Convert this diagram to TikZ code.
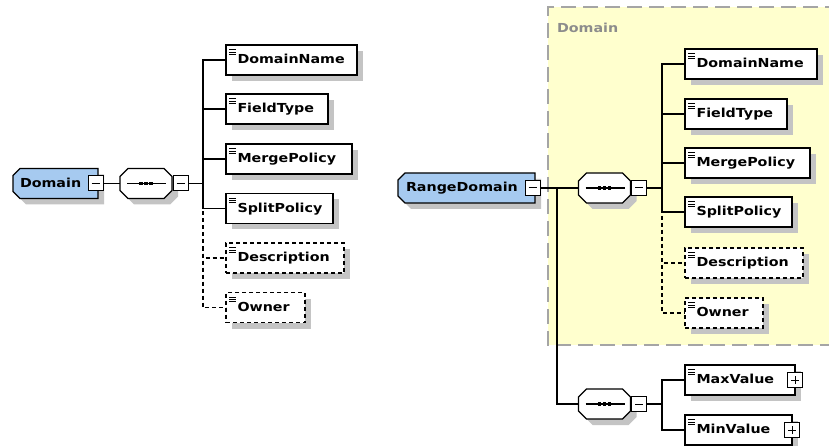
\documentclass[tikz,border=0pt]{standalone}
\usepackage{fontspec}
\newfontfamily\boxfont{DejaVu Sans}[BoldFont=DejaVu Sans Bold, FakeStretch=1.15, BoldFeatures={FakeStretch=1.15}]
\usetikzlibrary{shadows}
\definecolor{shgray}{RGB}{196,196,196}
\definecolor{elblue}{RGB}{166,202,240}
\definecolor{yel}{RGB}{255,255,206}
\definecolor{lblgray}{RGB}{140,140,140}
\definecolor{yborder}{RGB}{165,165,165}
\newcommand\elfont{\boxfont\bfseries\fontsize{12.4}{15}\selectfont}
\pgfdeclarelayer{back}
\pgfdeclarelayer{shapes}
\pgfsetlayers{back,shapes,main}
\tikzset{
  every node/.style={inner sep=0pt, outer sep=0pt},
  conn/.style={line width=1.1pt},
  optconn/.style={line width=1.1pt, dash pattern=on 4pt off 3pt},
  elem/.style={draw, line width=1.1pt, fill=white, minimum height=30pt, anchor=west,
    align=left, font=\elfont, text height=10pt, text depth=2.5pt,
    drop shadow={shadow xshift=6pt, shadow yshift=-6pt, fill=shgray, opacity=1}},
  optelem/.style={elem, dash pattern=on 4pt off 3pt},
  rootel/.style={minimum height=30pt, anchor=west, align=left, font=\elfont,
    text height=10pt, text depth=2.5pt},
  seqn/.style={minimum width=52pt, minimum height=30pt},
  pmbox/.style={draw, line width=1pt, fill=white, minimum size=15pt},
}
\newcommand\icon[1]{\foreach \k in {0,1,2}{\draw[line width=0.7pt] ([xshift=3pt,yshift={-4.5pt-2.4pt*\k}]#1.north west) -- ++(7,0);}}
\newcommand\minusmark[1]{\draw[line width=1pt] ([xshift=3.5pt]#1.west) -- ([xshift=-3.5pt]#1.east);}
\newcommand\plusmark[1]{\minusmark{#1}\draw[line width=1pt] ([yshift=3.5pt]#1.south) -- ([yshift=-3.5pt]#1.north);}
\newcommand\rootpath[1]{([yshift=-7pt]#1.north west) -- ([xshift=7pt]#1.north west) -- (#1.north east) -- (#1.south east) -- ([xshift=7pt]#1.south west) -- ([yshift=7pt]#1.south west) -- cycle}
\newcommand\octpath[1]{([xshift=8pt]#1.north west) -- ([xshift=-8pt]#1.north east) -- ([yshift=-8pt]#1.north east) -- ([yshift=8pt]#1.south east) -- ([xshift=-8pt]#1.south east) -- ([xshift=8pt]#1.south west) -- ([yshift=8pt]#1.south west) -- ([yshift=-8pt]#1.north west) -- cycle}
\newcommand\rootshape[1]{%
  \begin{scope}[transform canvas={shift={(6pt,-6pt)}}]\fill[shgray] \rootpath{#1};\end{scope}
  \filldraw[fill=elblue, line width=1.1pt] \rootpath{#1};}
\newcommand\seqshape[1]{%
  \begin{scope}[transform canvas={shift={(6pt,-6pt)}}]\fill[shgray] \octpath{#1};\end{scope}
  \filldraw[fill=white, line width=1.1pt] \octpath{#1};
  \draw[line width=1.2pt] ([xshift=7pt]#1.west) -- ([xshift=-6pt]#1.east);
  \foreach \d in {-5,0,5}{\fill ([xshift=\d pt-1.75pt, yshift=1.75pt]#1.center) rectangle ++(3.5,3.5);}}
\begin{document}
\begin{tikzpicture}[x=1pt,y=-1pt]
\useasboundingbox (0,0) rectangle (829,446);
\begin{pgfonlayer}{back}
  \fill[white] (0,0) rectangle (829,446);
  \node[fill=yel, minimum width=292pt, minimum height=338pt, anchor=north west] (ybox) at (548,7) {};
  \draw[yborder, line width=1.5pt, dash pattern=on 15pt off 7pt] (ybox.north east) -- (ybox.north west) -- (ybox.south west) -- (ybox.south east);
\end{pgfonlayer}
\node[anchor=west, font=\elfont, text=lblgray] (ylab) at (557,28) {Domain};

% ---------- left diagram ----------
\node[rootel, text width=85pt] (dom) at (13,183.5) {\hspace*{7pt}Domain};
\node[seqn] (seq1) at (146,183.5) {};
\node[pmbox] (dommin) at (95.5,183.5) {};
\node[pmbox] (seq1min) at (180.5,183.5) {};
\begin{pgfonlayer}{shapes}
  \rootshape{dom}
  \seqshape{seq1}
\end{pgfonlayer}
\minusmark{dommin}
\minusmark{seq1min}
\coordinate (b1) at (203,183.5);

\node[elem, text width=131pt] (ldn) at (226,60) {\hspace*{11.5pt}DomainName};
\node[elem, text width=102pt] (lft) at (226,109) {\hspace*{11.5pt}FieldType};
\node[elem, text width=126pt] (lmp) at (226,159) {\hspace*{11.5pt}MergePolicy};
\node[elem, text width=107pt] (lsp) at (226,208.5) {\hspace*{11.5pt}SplitPolicy};
\node[optelem, text width=118pt] (lde) at (226,258) {\hspace*{11.5pt}Description};
\node[optelem, text width=79pt] (low) at (226,307.5) {\hspace*{11.5pt}Owner};
\foreach \n in {ldn,lft,lmp,lsp,lde,low}{\icon{\n}}

\draw[conn] (dommin) -- (seq1);
\draw[conn] (seq1min) -- (b1);
\draw[optconn] (b1) |- (lde.west);
\draw[optconn] (b1) |- (low.west);
\foreach \n in {ldn,lft,lmp,lsp}{\draw[conn] (b1) |- (\n.west);}

% ---------- right diagram ----------
\node[rootel, text width=137pt] (rd) at (398,188) {\hspace*{8pt}RangeDomain};
\node[seqn] (seq2) at (604.5,188) {};
\node[seqn] (seq3) at (604.5,404) {};
\node[pmbox] (rdmin) at (532.5,188) {};
\node[pmbox] (seq2min) at (639,188) {};
\node[pmbox] (seq3min) at (639,404) {};
\begin{pgfonlayer}{shapes}
  \rootshape{rd}
  \seqshape{seq2}
  \seqshape{seq3}
\end{pgfonlayer}
\minusmark{rdmin}
\minusmark{seq2min}
\minusmark{seq3min}
\coordinate (j) at (557,188);
\coordinate (b2) at (662,188);
\coordinate (b3) at (662,404);

\node[elem, text width=132pt] (rdn) at (685,64) {\hspace*{11.5pt}DomainName};
\node[elem, text width=102pt] (rft) at (685,114) {\hspace*{11.5pt}FieldType};
\node[elem, text width=125pt] (rmp) at (685,163) {\hspace*{11.5pt}MergePolicy};
\node[elem, text width=107pt] (rsp) at (685,212) {\hspace*{11.5pt}SplitPolicy};
\node[optelem, text width=118pt] (rde) at (685,263) {\hspace*{11.5pt}Description};
\node[optelem, text width=78pt] (row) at (685,313) {\hspace*{11.5pt}Owner};
\node[elem, text width=110pt] (rmax) at (685,380) {\hspace*{11.5pt}MaxValue};
\node[elem, text width=107pt] (rmin) at (685,430) {\hspace*{11.5pt}MinValue};
\foreach \n in {rdn,rft,rmp,rsp,rde,row,rmax,rmin}{\icon{\n}}
\node[pmbox] (maxplus) at (rmax.east) {};
\node[pmbox] (minplus) at (rmin.east) {};
\plusmark{maxplus}
\plusmark{minplus}

\draw[conn] (rdmin) -- (seq2);
\draw[conn] (j) |- (seq3.west);
\draw[conn] (seq2min) -- (b2);
\draw[optconn] (b2) |- (rde.west);
\draw[optconn] (b2) |- (row.west);
\foreach \n in {rdn,rft,rmp,rsp}{\draw[conn] (b2) |- (\n.west);}
\draw[conn] (seq3min) -- (b3);
\draw[conn] (b3) |- (rmax.west);
\draw[conn] (b3) |- (rmin.west);
\end{tikzpicture}
\end{document}
